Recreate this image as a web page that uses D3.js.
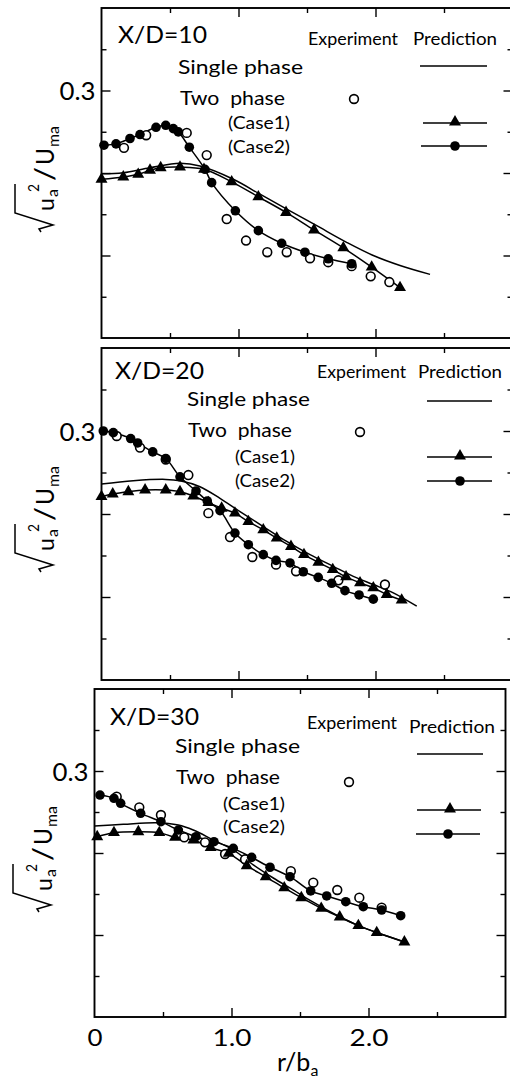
<!DOCTYPE html>
<html><head><meta charset="utf-8">
<script src="https://cdn.jsdelivr.net/npm/d3@7"></script>
<style>
html,body{margin:0;padding:0;background:#fff;}
svg{display:block;}
text{font-family:Lato,"DejaVu Sans",sans-serif;font-weight:400;fill:#000;}
</style>
</head><body>
<svg id="c" width="510" height="1081"></svg>
<script>
// ---------- DATA ----------
const xDomain = [0, 3.0];
const yDomain = [0, 0.4];
const yMajorTicks = [0.1, 0.2, 0.3];
const yMinorTicks = [0.05, 0.15, 0.25, 0.35];
const xMajorTicks = [1.0, 2.0];
const xMinorTicks = [0.5, 1.5, 2.5];
const yTickLabels = [0.3];
const xTickLabels = [0, 1.0, 2.0];
const titles = ["X/D=10", "X/D=20", "X/D=30"];

// X/D = 10
const r10Single = [0.0, 0.159, 0.354, 0.573, 0.719, 0.962, 1.157, 1.352, 1.571, 1.789, 1.984, 2.179, 2.398];
const v10Single = [0.1992, 0.2004, 0.2064, 0.2117, 0.2084, 0.1924, 0.1743, 0.1563, 0.1361, 0.116, 0.1, 0.0879, 0.0771];
const r10Case1 = [0.0, 0.159, 0.268, 0.354, 0.432, 0.573, 0.748, 0.950, 1.145, 1.347, 1.551, 1.765, 1.972, 2.179];
const v10Case1 = [0.1924, 0.1952, 0.1984, 0.2033, 0.2064, 0.2072, 0.2045, 0.1892, 0.1711, 0.1522, 0.131, 0.1093, 0.0859, 0.0611];
const r10Case2 = [0.018, 0.106, 0.208, 0.281, 0.398, 0.469, 0.524, 0.561, 0.641, 0.755, 0.804, 0.977, 1.145, 1.315, 1.485, 1.655, 1.826];
const v10Case2 = [0.2337, 0.2353, 0.2418, 0.2466, 0.2554, 0.2578, 0.2538, 0.2498, 0.2313, 0.2045, 0.1883, 0.1542, 0.1301, 0.1148, 0.104, 0.096, 0.09];
const r10Exp = [0.164, 0.326, 0.622, 0.768, 0.914, 1.055, 1.21, 1.352, 1.522, 1.655, 1.826, 1.965, 2.101];
const v10Exp = [0.2305, 0.2458, 0.2486, 0.2217, 0.1442, 0.1181, 0.104, 0.104, 0.0967, 0.0919, 0.0871, 0.0747, 0.0678];

// X/D = 20
const r20Single = [0.0, 0.232, 0.469, 0.573, 0.719, 0.865, 1.011, 1.181, 1.352, 1.522, 1.692, 1.838, 1.984, 2.13, 2.301];
const v20Single = [0.2361, 0.2401, 0.2417, 0.2401, 0.2329, 0.2189, 0.2029, 0.1849, 0.1669, 0.151, 0.1369, 0.1249, 0.115, 0.105, 0.0889];
const r20Case1 = [0.0, 0.082, 0.196, 0.318, 0.469, 0.573, 0.67, 0.78, 0.877, 0.974, 1.072, 1.181, 1.279, 1.383, 1.478, 1.583, 1.688, 1.785, 1.887, 1.984, 2.082, 2.191];
const v20Case1 = [0.2209, 0.2241, 0.2269, 0.2289, 0.2289, 0.2269, 0.2217, 0.2137, 0.207, 0.201, 0.1909, 0.1809, 0.171, 0.1609, 0.151, 0.1417, 0.133, 0.1242, 0.117, 0.111, 0.103, 0.0962];
const r20Case2 = [0.013, 0.086, 0.213, 0.264, 0.374, 0.469, 0.573, 0.69, 0.772, 0.865, 0.974, 1.072, 1.181, 1.274, 1.376, 1.473, 1.582, 1.68, 1.777, 1.88, 1.984];
const v20Case2 = [0.3, 0.298, 0.2909, 0.2856, 0.2748, 0.2669, 0.2448, 0.2277, 0.2157, 0.2041, 0.177, 0.163, 0.151, 0.1441, 0.141, 0.1304, 0.1237, 0.1165, 0.1077, 0.1025, 0.0974];
const r20Exp = [0.111, 0.281, 0.469, 0.634, 0.78, 0.938, 1.101, 1.274, 1.42, 1.729, 2.069];
const v20Exp = [0.294, 0.28, 0.2657, 0.2469, 0.201, 0.1722, 0.1482, 0.139, 0.131, 0.1201, 0.115];

// X/D = 30
const r30Single = [0.0, 0.21, 0.454, 0.612, 0.721, 0.867, 1.013, 1.159, 1.305, 1.45, 1.58, 1.792, 1.926, 2.06, 2.262];
const v30Single = [0.2329, 0.235, 0.237, 0.2341, 0.228, 0.2159, 0.2037, 0.1855, 0.1695, 0.155, 0.1415, 0.122, 0.1115, 0.103, 0.0915];
const r30Case1 = [0.02, 0.142, 0.32, 0.473, 0.588, 0.722, 0.848, 0.98, 1.111, 1.25, 1.385, 1.51, 1.655, 1.79, 1.926, 2.06, 2.262];
const v30Case1 = [0.2199, 0.2248, 0.226, 0.2248, 0.2191, 0.2159, 0.2065, 0.1996, 0.1845, 0.171, 0.1575, 0.1455, 0.1325, 0.122, 0.1115, 0.103, 0.0915];
const r30Case2 = [0.04, 0.142, 0.191, 0.337, 0.485, 0.612, 0.741, 0.872, 1.013, 1.147, 1.281, 1.427, 1.578, 1.695, 1.834, 1.962, 2.096, 2.235];
const v30Case2 = [0.2707, 0.2667, 0.2606, 0.2484, 0.2382, 0.228, 0.2199, 0.2138, 0.2057, 0.1947, 0.1826, 0.1711, 0.1537, 0.1476, 0.1406, 0.1345, 0.1305, 0.1235];
const r30Exp = [0.162, 0.327, 0.485, 0.655, 0.807, 0.953, 1.099, 1.433, 1.597, 1.772, 1.933, 2.096];
const v30Exp = [0.2687, 0.2557, 0.2463, 0.2191, 0.213, 0.1988, 0.1923, 0.1778, 0.1638, 0.1549, 0.1455, 0.1333];

const zip = (r, v) => r.map((d, i) => ({r: d, v: v[i]}));
const panelData = [
  {single: zip(r10Single, v10Single), case1: zip(r10Case1, v10Case1), case2: zip(r10Case2, v10Case2), exp: zip(r10Exp, v10Exp)},
  {single: zip(r20Single, v20Single), case1: zip(r20Case1, v20Case1), case2: zip(r20Case2, v20Case2), exp: zip(r20Exp, v20Exp)},
  {single: zip(r30Single, v30Single), case1: zip(r30Case1, v30Case1), case2: zip(r30Case2, v30Case2), exp: zip(r30Exp, v30Exp)}
];

// ---------- LAYOUT ----------
const layouts = [
  {left:101.5, right:512.5, top:8, bottom:338, ylab:[54,233],
   title:[118,43], exp:[308,45,90], pred:[413,45,84], single:[178,74,125], two:[180,105,105], c1:[228,129,62], c2:[228,153,62],
   legLine:[420,487,66], legOpen:[354,99], legTri:[423,487,123,455], legCirc:[421,487,146,455]},
  {left:101.5, right:512.5, top:348, bottom:680, ylab:[54,573],
   title:[115,379], exp:[317,378,89], pred:[418,378,84], single:[187,406,123], two:[188,437,104], c1:[235,463,60], c2:[235,487,60],
   legLine:[427,492,401], legOpen:[360,432], legTri:[427,492,457,460], legCirc:[427,492,481,460]},
  {left:94.5, right:505.5, top:689, bottom:1017, ylab:[52,913],
   title:[110,725], exp:[307,729,90], pred:[409,733,86], single:[175,753,125], two:[176,784,104], c1:[223,810,62], c2:[223,833,62],
   legLine:[417,483,754], legOpen:[349,782], legTri:[417,481,810,450], legCirc:[416,480,834,448]}
];

const svg = d3.select("#c");
const triPath = d3.symbol(d3.symbolTriangle, 62)();
const SW = 1.5;

function txt(g, x, y, s, size, len) {
  const t = g.append("text").attr("x", x).attr("y", y).attr("font-size", size).style("white-space","pre").text(s);
  if (len) t.attr("textLength", len).attr("lengthAdjust", "spacingAndGlyphs");
  return t;
}

function yLabel(g, tx, ty) {
  const lg = g.append("g").attr("transform", `translate(${tx},${ty}) rotate(-90)`);
  lg.append("path").attr("d", "M1,-13 L4,-15 L8,-1 L20,-39 L49,-39")
    .attr("fill","none").attr("stroke","#000").attr("stroke-width",1.5);
  txt(lg, 22, 0, "u", 24, 13);
  txt(lg, 36, 4, "a", 15, 8);
  txt(lg, 41, -15, "2", 15, 8);
  txt(lg, 52, 0, "/", 26, 14);
  txt(lg, 68, 0, "U", 25, 17);
  txt(lg, 86, 5, "ma", 15, 21);
}

panelData.forEach((pd, i) => {
  const L = layouts[i];
  const g = svg.append("g");
  const x = d3.scaleLinear().domain(xDomain).range([L.left, L.right]);
  const y = d3.scaleLinear().domain(yDomain).range([L.bottom, L.top]);

  const addAxis = (axis, tx, ty) => {
    const a = g.append("g").attr("transform", `translate(${tx},${ty})`).call(axis);
    a.select(".domain").remove();
    a.selectAll("line").attr("stroke","#000").attr("stroke-width",1.4);
    return a;
  };
  addAxis(d3.axisLeft(y).tickValues(yMajorTicks).tickSize(-9).tickFormat(""), L.left, 0);
  addAxis(d3.axisLeft(y).tickValues(yMinorTicks).tickSize(-5).tickFormat(""), L.left, 0);
  addAxis(d3.axisRight(y).tickValues(yMajorTicks).tickSize(-9).tickFormat(""), L.right, 0);
  addAxis(d3.axisRight(y).tickValues(yMinorTicks).tickSize(-5).tickFormat(""), L.right, 0);
  addAxis(d3.axisTop(x).tickValues(xMajorTicks).tickSize(-9).tickFormat(""), 0, L.top);
  addAxis(d3.axisTop(x).tickValues(xMinorTicks).tickSize(-5).tickFormat(""), 0, L.top);
  addAxis(d3.axisBottom(x).tickValues(xMajorTicks).tickSize(-9).tickFormat(""), 0, L.bottom);
  addAxis(d3.axisBottom(x).tickValues(xMinorTicks).tickSize(-5).tickFormat(""), 0, L.bottom);

  const yl = addAxis(d3.axisLeft(y).tickValues(yTickLabels).tickSize(0).tickPadding(6).tickFormat(d3.format(".1f")), L.left, 0);
  yl.selectAll("text").attr("font-size", 25).attr("fill","#000").attr("font-family", null).attr("dy","0.36em")
    .attr("textLength", 36).attr("lengthAdjust","spacingAndGlyphs");

  if (i === 2) {
    const xl = addAxis(d3.axisBottom(x).tickValues(xTickLabels).tickSize(0).tickPadding(12)
      .tickFormat(d => d === 0 ? "0" : d3.format(".1f")(d)), 0, L.bottom);
    xl.selectAll("text").attr("font-size", 24).attr("fill","#000").attr("font-family", null)
      .attr("textLength", d => d === 0 ? 15 : 39).attr("lengthAdjust","spacingAndGlyphs");
    const xt = g.append("text").attr("x", 277).attr("y", 1071).attr("font-size", 25);
    xt.append("tspan").text("r/b");
    xt.append("tspan").attr("font-size", 16).attr("dy", 5).text("a");
  }

  g.append("rect").attr("x", L.left).attr("y", L.top).attr("width", L.right - L.left).attr("height", L.bottom - L.top)
    .attr("fill","none").attr("stroke","#000").attr("stroke-width",1.9);

  yLabel(g, L.ylab[0], L.ylab[1]);

  const line = d3.line().x(d => x(d.r)).y(d => y(d.v)).curve(d3.curveCatmullRom.alpha(0.5));
  [pd.single, pd.case1, pd.case2].forEach(s => {
    g.append("path").attr("d", line(s)).attr("fill","none").attr("stroke","#000").attr("stroke-width",SW);
  });

  g.selectAll(null).data(pd.exp).enter().append("circle")
    .attr("cx", d => x(d.r)).attr("cy", d => y(d.v)).attr("r", 4.4)
    .attr("fill","#fff").attr("stroke","#000").attr("stroke-width",1.6);
  g.selectAll(null).data(pd.case1).enter().append("path")
    .attr("d", triPath).attr("transform", d => `translate(${x(d.r)},${y(d.v)})`).attr("fill","#000");
  g.selectAll(null).data(pd.case2).enter().append("circle")
    .attr("cx", d => x(d.r)).attr("cy", d => y(d.v)).attr("r", 4.8).attr("fill","#000");

  txt(g, L.title[0], L.title[1], titles[i], 24, 89);
  txt(g, L.exp[0], L.exp[1], "Experiment", 18, L.exp[2]);
  txt(g, L.pred[0], L.pred[1], "Prediction", 18, L.pred[2]);
  txt(g, L.single[0], L.single[1], "Single phase", 20, L.single[2]);
  txt(g, L.two[0], L.two[1], "Two  phase", 20, L.two[2]);
  txt(g, L.c1[0], L.c1[1], "(Case1)", 17, L.c1[2]);
  txt(g, L.c2[0], L.c2[1], "(Case2)", 17, L.c2[2]);

  g.append("line").attr("x1", L.legLine[0]).attr("x2", L.legLine[1]).attr("y1", L.legLine[2]).attr("y2", L.legLine[2])
    .attr("stroke","#000").attr("stroke-width",SW);
  g.append("circle").attr("cx", L.legOpen[0]).attr("cy", L.legOpen[1]).attr("r", 4.4)
    .attr("fill","#fff").attr("stroke","#000").attr("stroke-width",1.6);
  g.append("line").attr("x1", L.legTri[0]).attr("x2", L.legTri[1]).attr("y1", L.legTri[2]).attr("y2", L.legTri[2])
    .attr("stroke","#000").attr("stroke-width",SW);
  g.append("path").attr("d", triPath).attr("transform", `translate(${L.legTri[3]},${L.legTri[2] - 1})`).attr("fill","#000");
  g.append("line").attr("x1", L.legCirc[0]).attr("x2", L.legCirc[1]).attr("y1", L.legCirc[2]).attr("y2", L.legCirc[2])
    .attr("stroke","#000").attr("stroke-width",SW);
  g.append("circle").attr("cx", L.legCirc[3]).attr("cy", L.legCirc[2]).attr("r", 4.8).attr("fill","#000");
});
</script>
</body></html>
